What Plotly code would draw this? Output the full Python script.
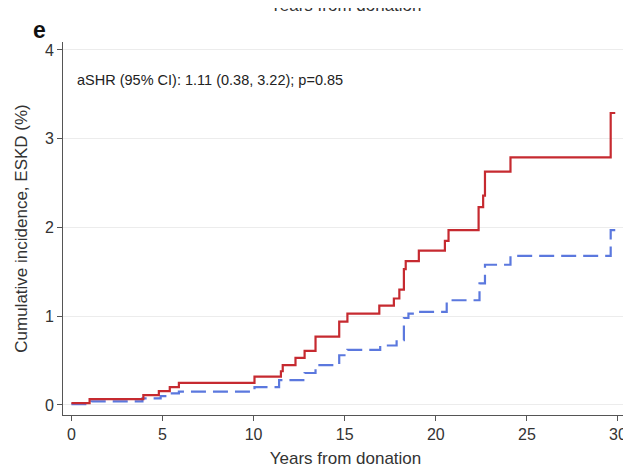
import plotly.graph_objects as go

# Step-function data (years, cumulative incidence %)
red_t = [0, 1.0, 3.95, 4.8, 5.4, 5.9, 10.05, 11.5, 11.6, 12.3, 12.8, 13.4, 14.7, 15.15,
         16.9, 17.7, 18.0, 18.25, 18.35, 19.07, 20.5, 20.7, 22.35, 22.6, 22.7, 24.1, 29.6, 29.85]
red_v = [0.02, 0.065, 0.11, 0.155, 0.2, 0.25, 0.32, 0.38, 0.45, 0.53, 0.61, 0.77, 0.94, 1.03,
         1.12, 1.2, 1.3, 1.53, 1.62, 1.74, 1.85, 1.97, 2.23, 2.36, 2.63, 2.79, 3.29, 3.29]

blue_t = [0, 1.1, 3.9, 4.9, 5.4, 5.9, 10.05, 11.4, 12.8, 13.4, 14.7, 15.15, 16.95, 17.85,
          18.25, 18.5, 19.07, 20.6, 22.4, 22.7, 24.1, 29.6, 29.85]
blue_v = [0.01, 0.04, 0.075, 0.1, 0.13, 0.15, 0.2, 0.28, 0.36, 0.45, 0.56, 0.62, 0.67, 0.73,
          0.98, 1.03, 1.05, 1.18, 1.37, 1.58, 1.68, 1.97, 1.97]

x_ticks = [0, 5, 10, 15, 20, 25, 30]
y_ticks = [0, 1, 2, 3, 4]

annotation_text = "aSHR (95% CI): 1.11 (0.38, 3.22); p=0.85"

FAM = "Liberation Sans, Arial, sans-serif"

fig = go.Figure()
fig.add_trace(go.Scatter(x=blue_t, y=blue_v, mode="lines", line_shape="hv",
                         line=dict(color="#5b78de", width=2.2, dash="15px,7px"),
                         showlegend=False))
fig.add_trace(go.Scatter(x=red_t, y=red_v, mode="lines", line_shape="hv",
                         line=dict(color="#c62a30", width=2.2),
                         showlegend=False))

tick_font = dict(family=FAM, size=16, color="#333333")
title_font = dict(family=FAM, size=17, color="#333333")

fig.update_layout(
    width=623, height=460,
    margin=dict(l=55, r=3, t=34, b=53, autoexpand=False),
    paper_bgcolor="white", plot_bgcolor="white",
    font=tick_font,
    xaxis=dict(range=[-0.46, 30.55], tickvals=x_ticks, ticks="outside", ticklen=5,
               tickcolor="#555555", showline=True, linecolor="#555555", linewidth=1,
               showgrid=False, zeroline=False, tickfont=tick_font, automargin=False,
               title=dict(text="Years from donation", font=title_font, standoff=9)),
    yaxis=dict(range=[-0.113, 4.09], tickvals=y_ticks, ticks="outside", ticklen=5,
               tickcolor="#555555", showline=True, linecolor="#555555", linewidth=1,
               showgrid=True, gridcolor="#ececec", gridwidth=1, zeroline=False,
               tickfont=tick_font, automargin=False,
               title=dict(text="Cumulative incidence, ESKD (%)", font=title_font,
                          standoff=12)),
    annotations=[
        dict(text=annotation_text, xref="x", yref="y", x=0.22, y=3.66,
             xanchor="left", yanchor="middle", showarrow=False,
             font=dict(family=FAM, size=14.5, color="#222222")),
        dict(text="<b>e</b>", xref="paper", yref="paper", x=-0.041, y=1.032,
             xanchor="center", yanchor="middle", showarrow=False,
             font=dict(family=FAM, size=23, color="#111111")),
        dict(text="Years from donation", xref="paper", yref="paper", x=0.5, y=1.068,
             xanchor="center", yanchor="bottom", showarrow=False,
             font=dict(family=FAM, size=17, color="#333333")),
    ],
)

fig.write_html("out.html")
